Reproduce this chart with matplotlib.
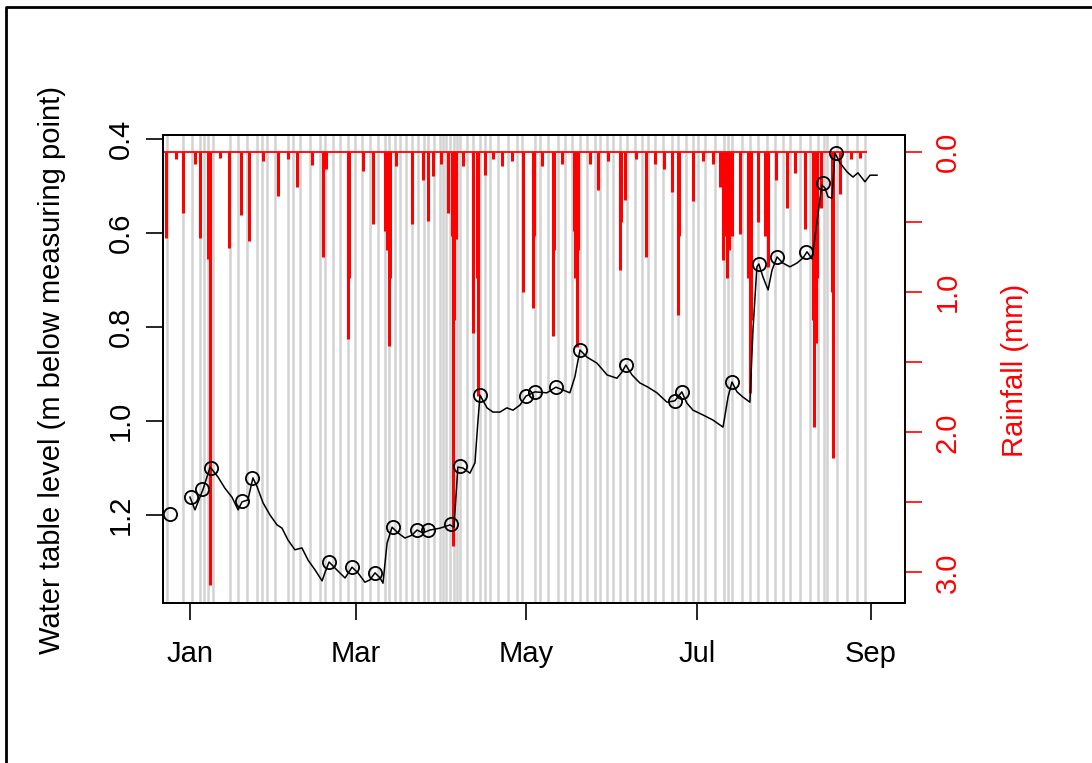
import numpy as np
import matplotlib
matplotlib.use("Agg")
from matplotlib import pyplot as plt
from matplotlib.lines import Line2D

plt.rcParams['font.family'] = ['Liberation Sans', 'DejaVu Sans']

# days counted from 1 Jan (non-leap year)
month_ticks = [0, 59, 120, 181, 243]
month_labels = ["Jan", "Mar", "May", "Jul", "Sep"]

# water table level trace (m below measuring point)
level_days = [-0.2, 1.6, 4.5, 7.0, 9.8, 12.3, 14.8, 17.0, 18.4, 20.5, 22.3, 23.8, 25.9, 28.4,
              30.9, 32.7, 34.8, 37.3, 39.8, 42.0, 44.5, 47.0, 48.0, 49.5, 52.3, 55.2, 57.7,
              59.8, 62.3, 64.1, 65.9, 67.7, 68.75, 70.2, 72.0, 74.1, 76.6, 79.1, 80.9, 83.0,
              85.5, 89.1, 92.7, 94.1, 95.5, 97.3, 99.8, 101.6, 102.7, 103.4, 105.9, 108.0,
              110.5, 113.0, 115.2, 117.7, 119.8, 123.0, 127.3, 130.5, 133.0, 135.5, 137.3,
              139.1, 141.6, 145.2, 148.8, 152.3, 154.1, 155.5, 157.7, 160.5, 163.4, 166.6,
              170.2, 173.0, 175.5, 177.3, 179.5, 183.0, 186.6, 190.2, 192.0, 193.4, 195.2,
              197.3, 199.8, 200.9, 202.3, 203.0, 204.5, 206.3, 207.7, 209.5, 211.6, 214.1,
              216.6, 218.8, 220.2, 222.0, 225.5, 226.6, 227.7, 229.1, 230.2, 232.0, 234.5,
              236.6, 238.4, 240.9, 242.7, 245.2]
level_vals = [1.162, 1.189, 1.145, 1.098, 1.119, 1.143, 1.162, 1.189, 1.172, 1.168, 1.121,
              1.140, 1.174, 1.200, 1.221, 1.228, 1.253, 1.274, 1.270, 1.296, 1.317, 1.340,
              1.323, 1.300, 1.317, 1.334, 1.311, 1.323, 1.343, 1.338, 1.323, 1.334, 1.345,
              1.260, 1.226, 1.238, 1.249, 1.243, 1.232, 1.238, 1.232, 1.228, 1.221, 1.226,
              1.098, 1.100, 1.111, 1.089, 0.998, 0.945, 0.972, 0.981, 0.981, 0.972, 0.977,
              0.966, 0.947, 0.938, 0.940, 0.928, 0.934, 0.940, 0.906, 0.849, 0.864, 0.877,
              0.902, 0.909, 0.896, 0.881, 0.902, 0.919, 0.928, 0.940, 0.960, 0.957, 0.938,
              0.962, 0.977, 0.987, 0.998, 1.013, 0.949, 0.917, 0.938, 0.949, 0.960, 0.806,
              0.672, 0.666, 0.694, 0.721, 0.679, 0.651, 0.664, 0.672, 0.664, 0.653, 0.640,
              0.655, 0.498, 0.504, 0.523, 0.526, 0.430, 0.451, 0.470, 0.481, 0.472, 0.491,
              0.477, 0.477]

# manual dip readings (circles)
dip_days = [-7.3, 0.1, 4.1, 7.3, 18.4, 22.0, 49.5, 57.6, 65.9, 72.3, 80.8, 85.0, 92.9, 96.3,
            103.4, 119.8, 123.0, 130.5, 139.0, 155.5, 173.0, 175.5, 193.4, 203.0, 209.5,
            220.0, 226.0, 230.6]
dip_vals = [1.198, 1.162, 1.145, 1.100, 1.170, 1.121, 1.300, 1.311, 1.323, 1.226, 1.232,
            1.232, 1.219, 1.096, 0.945, 0.947, 0.938, 0.928, 0.849, 0.881, 0.957, 0.938,
            0.917, 0.666, 0.651, 0.640, 0.494, 0.430]

# rainfall (mm)
rain_days = [-8.75, -5.0, -2.7, 1.5, 3.4, 6.25, 6.6, 7.0, 10.5, 13.75, 18.0, 20.9, 26.0,
             31.25, 35.0, 38.0, 43.4, 47.3, 48.5, 56.25, 56.6, 61.6, 65.2, 69.5, 70.3, 70.9,
             71.4, 73.5, 79.1, 83.0, 84.8, 86.6, 89.5, 92.0, 93.3, 93.75, 94.2, 94.8, 97.5,
             100.9, 102.2, 102.7, 105.2, 108.0, 111.25, 115.0, 118.75, 122.3, 122.7, 125.5,
             129.5, 129.9, 132.7, 137.0, 137.5, 138.0, 138.5, 142.7, 145.5, 149.0, 153.4,
             153.8, 155.2, 159.0, 162.7, 165.9, 169.0, 172.0, 174.1, 174.5, 179.5, 183.0,
             186.6, 189.0, 190.2, 191.0, 191.6, 192.2, 193.4, 196.25, 199.3, 199.8, 200.3,
             202.7, 205.2, 206.25, 209.0, 213.0, 216.0, 219.5, 222.2, 222.7, 223.4, 223.9,
             225.2, 229.0, 229.5, 232.0, 236.0, 239.0]
rain_vals = [0.61, 0.05, 0.43, 0.08, 0.61, 0.76, 0.50, 3.09, 0.04, 0.68, 0.45, 0.63, 0.06,
             0.31, 0.05, 0.25, 0.09, 0.75, 0.12, 1.33, 0.90, 0.13, 0.51, 0.56, 0.70, 1.38,
             0.90, 0.10, 0.51, 0.20, 0.49, 0.17, 0.08, 0.43, 0.60, 2.81, 1.20, 0.62, 0.10,
             1.29, 0.90, 1.74, 0.16, 0.05, 0.10, 0.06, 1.00, 1.11, 0.60, 0.10, 1.31, 0.70,
             0.08, 0.56, 0.90, 1.39, 0.70, 0.08, 0.27, 0.06, 0.84, 0.50, 0.34, 0.05, 0.75,
             0.08, 0.12, 0.28, 1.16, 0.60, 0.35, 0.06, 0.08, 0.25, 0.77, 0.60, 0.90, 0.70,
             0.60, 0.58, 0.90, 1.72, 1.20, 0.50, 0.60, 0.82, 0.20, 0.40, 0.15, 0.55, 1.20,
             1.96, 1.36, 0.90, 0.40, 1.00, 2.18, 0.30, 0.05, 0.04]
rain_end = 241.6

# logger download / rain event markers
event_days = [-8.4, -2.7, 0.5, 3.4, 4.8, 6.25, 8.0, 14.1, 17.0, 20.2, 23.75, 25.5, 27.3, 30.2,
              34.8, 36.6, 39.1, 42.7, 46.25, 48.0, 50.9, 53.4, 56.25, 58.75, 61.25, 64.1,
              67.0, 69.5, 70.9, 73.0, 74.8, 76.9, 79.1, 81.25, 83.4, 84.8, 86.9, 89.1, 90.2,
              91.25, 92.7, 94.1, 95.2, 96.25, 98.75, 100.9, 103.4, 105.2, 107.0, 109.8,
              113.4, 116.6, 118.4, 123.0, 124.8, 127.7, 131.25, 133.75, 136.25, 139.1, 141.6,
              144.5, 146.25, 148.75, 150.9, 153.4, 155.9, 158.75, 161.25, 163.4, 165.9,
              168.75, 172.0, 174.1, 176.9, 179.5, 181.25, 183.75, 187.3, 190.5, 192.0, 193.4,
              197.0, 199.8, 202.7, 205.9, 208.75, 211.6, 214.1, 217.7, 221.25, 224.1, 226.25,
              227.3, 230.9, 234.5, 238.0, 240.9]

fig = plt.figure(figsize=(10.92, 7.63), dpi=100)
ax2 = fig.add_axes([163/1092, 160/763, 742/1092, 468/763])
ax1 = ax2.twinx()
# put the water level axis on the left and draw it above the rain
ax1.yaxis.tick_left()
ax1.yaxis.set_label_position("left")
ax2.yaxis.tick_right()
ax2.yaxis.set_label_position("right")
ax1.set_zorder(ax2.get_zorder() + 1)
ax1.patch.set_visible(False)

for d in event_days:
    ax2.axvline(d, color="#d3d3d3", lw=1.8, zorder=1)
ax2.vlines(rain_days, 0, rain_vals, color="red", lw=2.2, zorder=2)
ax2.hlines(0, -9.82, rain_end, color="red", lw=1.3, zorder=2)

ax1.plot(level_days, level_vals, color="black", lw=1.1)
ax1.plot(dip_days, dip_vals, "o", mfc="none", mec="black", ms=9.5, mew=1.3)

ax2.set_xlim(-9.82, 255.2)
ax1.set_ylim(1.3872, 0.3915)
ax2.set_ylim(3.219, -0.124)

ax2.set_xticks(month_ticks)
ax2.set_xticklabels(month_labels)
ax1.set_yticks([0.4, 0.6, 0.8, 1.0, 1.2])
ax1.set_yticklabels(["0.4", "0.6", "0.8", "1.0", "1.2"])
ax2.set_yticks([0.0, 0.5, 1.0, 1.5, 2.0, 2.5, 3.0])
ax2.set_yticklabels(["0.0", "", "1.0", "", "2.0", "", "3.0"])

fs = 21
ax2.tick_params(axis="x", length=12.5, width=1.2, pad=14, labelsize=fs)
ax1.tick_params(axis="y", length=12.5, width=1.2, pad=8, labelsize=fs, labelrotation=90)
ax2.tick_params(axis="y", length=12.5, width=1.2, pad=8, labelsize=fs, labelrotation=90,
                colors="red")
for t in ax1.get_yticklabels() + ax2.get_yticklabels():
    t.set_va("center")

for ax in (ax1, ax2):
    for s in ax.spines.values():
        s.set_color("black")
        s.set_linewidth(1.3)
# red axis line only between first and last tick, like R's axis()
ax2.plot([1, 1], [0, 3], color="red", lw=1.3, transform=ax2.get_yaxis_transform(),
         clip_on=False, zorder=5)

fig.text(52/1092, 1 - 370/763, "Water table level (m below measuring point)", rotation=90,
         ha="center", va="center", fontsize=fs)
fig.text(1015/1092, 1 - 370/763, "Rainfall (mm)", rotation=90, ha="center", va="center",
         fontsize=fs, color="red")

# outer frame (top and left edges visible in the crop)
fig.add_artist(Line2D([6/1092, 6/1092, 1.0], [0.0, 1 - 7/763, 1 - 7/763],
                      transform=fig.transFigure, color="black", lw=2))

fig.savefig("out.png", dpi=100)
